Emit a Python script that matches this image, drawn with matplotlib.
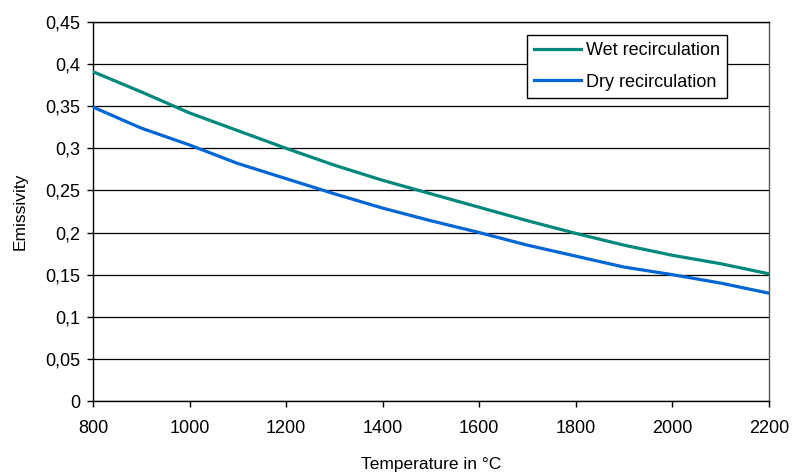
import matplotlib
matplotlib.use("Agg")
import matplotlib.pyplot as plt
from matplotlib.ticker import FuncFormatter, MultipleLocator

plt.rcParams['font.family'] = ['Liberation Sans', 'DejaVu Sans']

temperature = [800, 900, 1000, 1100, 1200, 1300, 1400, 1500,
               1600, 1700, 1800, 1900, 2000, 2100, 2200]
wet = [0.391, 0.367, 0.342, 0.321, 0.300, 0.280, 0.262, 0.246,
       0.230, 0.214, 0.199, 0.185, 0.173, 0.163, 0.151]
dry = [0.349, 0.324, 0.304, 0.282, 0.264, 0.246, 0.229, 0.214,
       0.200, 0.185, 0.172, 0.159, 0.150, 0.140, 0.128]

fig = plt.figure(figsize=(7.92, 4.72), dpi=100)
ax = fig.add_axes([0.1174, 0.1504, 0.8536, 0.803])

ax.plot(temperature, wet, color='#00897B', lw=2.3, label='Wet recirculation',
        solid_joinstyle='round', zorder=3)
ax.plot(temperature, dry, color='#0066D6', lw=2.3, label='Dry recirculation',
        solid_joinstyle='round', zorder=3)

ax.set_xlim(800, 2200)
ax.set_ylim(0, 0.45)
ax.xaxis.set_major_locator(MultipleLocator(200))
ax.yaxis.set_major_locator(MultipleLocator(0.05))

def comma(v, pos):
    s = f"{v:.2f}".rstrip('0').rstrip('.')
    return s.replace('.', ',')

ax.yaxis.set_major_formatter(FuncFormatter(comma))
ax.grid(axis='y', color='black', lw=0.9)
ax.set_axisbelow(True)
for sp in ax.spines.values():
    sp.set_color('black')
    sp.set_linewidth(1.0)
ax.spines['right'].set_color('#555555')

ax.tick_params(axis='both', direction='out', length=4, width=1,
               labelsize=13, colors='black', pad=5)
ax.tick_params(axis='x', pad=10)

ax.set_xlabel('Temperature in °C', fontsize=12.5, labelpad=14)
ax.set_ylabel('Emissivity', fontsize=12.5, labelpad=13)

leg = ax.legend(loc='upper right', bbox_to_anchor=(0.938, 0.966),
                borderaxespad=0, fancybox=False, frameon=True,
                edgecolor='black', framealpha=1, fontsize=13,
                handlelength=2.6, handletextpad=0.25, labelspacing=0.8,
                borderpad=0.4)
leg.get_frame().set_linewidth(1.0)

fig.savefig('out.png', dpi=100)
